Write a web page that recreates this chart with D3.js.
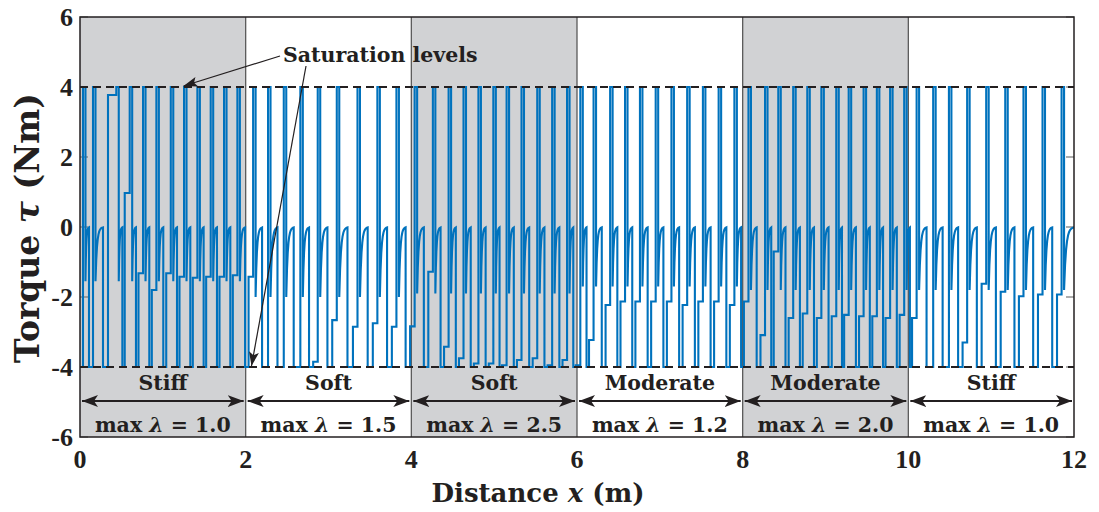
<!DOCTYPE html>
<html>
<head>
<meta charset="utf-8">
<script src="https://cdn.jsdelivr.net/npm/d3@7"></script>
<style>
  body { margin: 0; background: #fff; }
  text { font-family: "DejaVu Serif", serif; font-weight: bold; fill: #231f20; }
  text.num { font-family: "Liberation Serif", "Times New Roman", serif; }
</style>
</head>
<body>
<svg id="chart" width="1099" height="512"></svg>
<script>
// segments of the track
var segNames = ['Stiff', 'Soft', 'Soft', 'Moderate', 'Moderate', 'Stiff']
var segLambda = ['1.0', '1.5', '2.5', '1.2', '2.0', '1.0']
var segShaded = [true, false, true, false, true, false]
var archLow = [-1.55, -2.0, -1.9, -1.7, -1.8, -1.8]

// distance where torque jumps to the upper saturation level
var upX = [0.036, 0.157, 0.438, 0.600, 0.761, 0.922, 1.096, 1.256, 1.417, 1.578, 1.739, 1.900,
  2.09, 2.27, 2.46, 2.66, 2.87, 3.10, 3.35, 3.59, 3.82,
  4.04, 4.26, 4.45, 4.63, 4.81, 4.99, 5.15, 5.33, 5.52, 5.70, 5.88,
  6.04, 6.20, 6.40, 6.58, 6.76, 6.95, 7.14, 7.33, 7.52, 7.71, 7.90,
  8.07, 8.27, 8.43, 8.61, 8.78, 8.95, 9.13, 9.28, 9.46, 9.62, 9.78, 9.95,
  10.10, 10.30, 10.49, 10.71, 10.94, 11.17, 11.39, 11.62, 11.85]
// torque held just before each jump (null = stays at lower saturation)
var holdY = [null, null, 3.77, 0.97, -1.32, -1.8, -1.32, -1.42, -1.45, -1.42, -1.42, -1.38,
  -1.42, null, null, null, -3.85, -2.66, -2.85, -2.75, -2.85,
  -2.84, -1.28, -3.42, -3.75, -3.9, -3.9, -3.95, -3.8, -3.75, -3.95, -3.8,
  -3.95, -3.23, -2.23, -2.13, -2.13, -2.13, -2.13, -2.23, -2.13, -2.13, -2.23,
  -2.13, -3.09, -0.7, -2.6, -2.47, -2.6, -2.55, -2.51, -2.55, -2.55, -2.6, -2.51,
  -2.6, null, null, -3.3, -1.62, -1.85, -1.98, -1.93, -1.93]
// where the hold starts, when it is not the usual short one
var holdFrom = {2: 0.338, 3: 0.54}

var satLevel = 4
var xTicks = [0, 2, 4, 6, 8, 10, 12]
var yTicks = [-6, -4, -2, 0, 2, 4, 6]

var svg = d3.select('#chart')
var x = d3.scaleLinear().domain([0, 12]).range([80, 1074])
var y = d3.scaleLinear().domain([-6, 6]).range([437, 17])

var defs = svg.append('defs')
defs.append('clipPath').attr('id', 'plotClip')
  .append('rect').attr('x', 80).attr('y', 17).attr('width', 994).attr('height', 420)

// shaded bands
segShaded.forEach(function(s, i) {
  if (!s) return
  svg.append('rect')
    .attr('x', x(i * 2)).attr('y', y(6))
    .attr('width', x(2) - x(0)).attr('height', y(-6) - y(6))
    .attr('fill', '#d1d2d4')
})

// separators
svg.selectAll('.sep').data([2, 4, 6, 8, 10]).enter().append('line')
  .attr('x1', function(d) { return x(d) }).attr('x2', function(d) { return x(d) })
  .attr('y1', y(6)).attr('y2', y(-6))
  .attr('stroke', '#5a5a5a').attr('stroke-width', 1.3)

// inner ticks
yTicks.forEach(function(t) {
  svg.append('line').attr('x1', 80).attr('x2', 88).attr('y1', y(t)).attr('y2', y(t))
    .attr('stroke', '#777').attr('stroke-width', 1.2)
  svg.append('line').attr('x1', 1066).attr('x2', 1074).attr('y1', y(t)).attr('y2', y(t))
    .attr('stroke', '#777').attr('stroke-width', 1.2)
})

// build torque trace
var pts = [[0, -4]]
var wTop = 0.03, wHold = 0.055
function holdStart(i) {
  return holdFrom[i] !== undefined ? holdFrom[i] : upX[i] - wHold
}
upX.forEach(function(u, i) {
  var L = holdY[i]
  if (L !== null) {
    var hs = holdStart(i)
    pts.push([hs, -4], [hs, L], [u, L])
  } else {
    pts.push([u, -4])
  }
  pts.push([u, satLevel])
  var t1 = u + wTop
  var a = archLow[Math.min(5, Math.floor(u / 2))]
  pts.push([t1, satLevel], [t1, a])
  var last = i == upX.length - 1
  var nextStart = last ? 12.2 : (holdY[i + 1] !== null ? holdStart(i + 1) : upX[i + 1] - 0.02)
  var tEnd = last ? t1 + 0.12 : t1 + 0.6 * (nextStart - t1)
  var n = 10
  for (var k = 1; k <= n; k++) {
    var s = k / n
    pts.push([t1 + s * (tEnd - t1), a * Math.exp(-5 * s)])
  }
  if (last) pts.push([12.2, 0])
  else pts.push([tEnd, -4])
})

svg.append('path')
  .attr('clip-path', 'url(#plotClip)')
  .attr('d', d3.line().x(function(d) { return x(d[0]) }).y(function(d) { return y(d[1]) })(pts))
  .attr('fill', 'none')
  .attr('stroke', '#0072bd')
  .attr('stroke-width', 2.1)

// saturation lines
svg.selectAll('.sat').data([satLevel, -satLevel]).enter().append('line')
  .attr('x1', x(0)).attr('x2', x(12))
  .attr('y1', function(d) { return y(d) }).attr('y2', function(d) { return y(d) })
  .attr('stroke', '#231f20').attr('stroke-width', 2).attr('stroke-dasharray', '8,5')

// frame
svg.append('rect').attr('x', 80).attr('y', 17).attr('width', 994).attr('height', 420)
  .attr('fill', 'none').attr('stroke', '#231f20').attr('stroke-width', 1.5)

// arrow markers
defs.append('marker').attr('id', 'headEnd')
  .attr('viewBox', '0 0 16 12').attr('refX', 16).attr('refY', 6)
  .attr('markerWidth', 16).attr('markerHeight', 12).attr('markerUnits', 'userSpaceOnUse')
  .attr('orient', 'auto')
  .append('path').attr('d', 'M0,0 L16,6 L0,12 L4,6 Z').attr('fill', '#231f20')
defs.append('marker').attr('id', 'headStart')
  .attr('viewBox', '0 0 16 12').attr('refX', 0).attr('refY', 6)
  .attr('markerWidth', 16).attr('markerHeight', 12).attr('markerUnits', 'userSpaceOnUse')
  .attr('orient', 'auto')
  .append('path').attr('d', 'M16,0 L0,6 L16,12 L12,6 Z').attr('fill', '#231f20')
defs.append('marker').attr('id', 'smallHead')
  .attr('viewBox', '0 0 14 10').attr('refX', 14).attr('refY', 5)
  .attr('markerWidth', 14).attr('markerHeight', 10).attr('markerUnits', 'userSpaceOnUse')
  .attr('orient', 'auto')
  .append('path').attr('d', 'M0,0 L14,5 L0,10 L3,5 Z').attr('fill', '#231f20')

// segment labels and arrows
segNames.forEach(function(name, i) {
  var cx = x(i * 2 + 1)
  svg.append('text').attr('x', cx).attr('y', 390).attr('text-anchor', 'middle')
    .attr('font-size', 20.5).text(name)
  svg.append('line')
    .attr('x1', x(i * 2) + 2).attr('x2', x(i * 2 + 2) - 2)
    .attr('y1', 401).attr('y2', 401)
    .attr('stroke', '#231f20').attr('stroke-width', 2)
    .attr('marker-start', 'url(#headStart)').attr('marker-end', 'url(#headEnd)')
  var t = svg.append('text').attr('x', cx).attr('y', 432).attr('text-anchor', 'middle')
    .attr('font-size', 20.5)
  t.append('tspan').text('max ')
  t.append('tspan').attr('font-style', 'italic').text('\u03bb')
  t.append('tspan').text(' = ' + segLambda[i])
})

// tick labels
svg.selectAll('.ylab').data(yTicks).enter().append('text')
  .attr('class', 'num')
  .attr('x', 73).attr('y', function(d) { return y(d) + 9 })
  .attr('text-anchor', 'end').attr('font-size', 26)
  .text(function(d) { return d })
svg.selectAll('.xlab').data(xTicks).enter().append('text')
  .attr('class', 'num')
  .attr('x', function(d) { return x(d) }).attr('y', 468)
  .attr('text-anchor', 'middle').attr('font-size', 26)
  .text(function(d) { return d })

// axis titles
var xt = svg.append('text').attr('x', 538).attr('y', 502).attr('text-anchor', 'middle').attr('font-size', 26)
xt.append('tspan').text('Distance ')
xt.append('tspan').attr('font-style', 'italic').text('x')
xt.append('tspan').text(' (m)')
var yt = svg.append('text').attr('transform', 'translate(39,228) rotate(-90)')
  .attr('text-anchor', 'middle').attr('font-size', 33)
yt.append('tspan').text('Torque ')
yt.append('tspan').attr('font-style', 'italic').text('\u03c4')
yt.append('tspan').text(' (Nm)')

// annotation
svg.append('text').attr('x', 283).attr('y', 62).attr('font-size', 20.5).text('Saturation levels')
svg.append('line').attr('x1', 280).attr('y1', 56).attr('x2', x(1.25)).attr('y2', y(4) - 1)
  .attr('stroke', '#231f20').attr('stroke-width', 1.2).attr('marker-end', 'url(#smallHead)')
svg.append('line').attr('x1', 306).attr('y1', 66).attr('x2', x(2.07)).attr('y2', y(-4) - 1)
  .attr('stroke', '#231f20').attr('stroke-width', 1.2).attr('marker-end', 'url(#smallHead)')
</script>
</body>
</html>
